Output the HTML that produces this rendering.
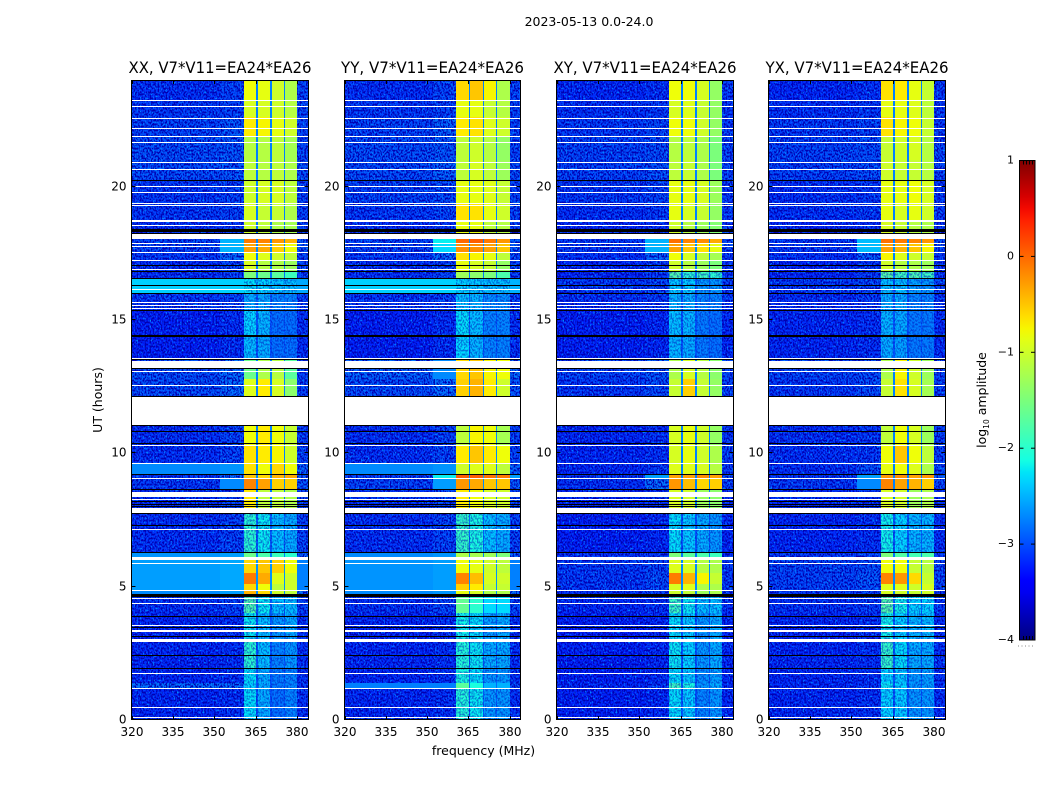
<!DOCTYPE html>
<html lang="en">
<head>
<meta charset="utf-8">
<title>2023-05-13 0.0-24.0 dynamic spectra</title>
<style>
html,body{margin:0;padding:0;background:#fff;width:1050px;height:800px;overflow:hidden}
svg{display:block}
text{font-family:"DejaVu Sans","Liberation Sans",sans-serif;fill:#000}
.tick{font-size:12px}
.label{font-size:12.5px}
.title{font-size:16px}
</style>
</head>
<body>
<svg id="fig" xmlns="http://www.w3.org/2000/svg" width="1050" height="800" viewBox="0 0 1050 800">
<defs>
<filter id="speckle-light" x="0" y="0" width="100%" height="100%" color-interpolation-filters="sRGB">
<feTurbulence type="fractalNoise" baseFrequency="0.62 0.5" numOctaves="2" seed="7"/>
<feColorMatrix type="matrix" values="0 0 0 0 0  0 0 0 0 0.55  0 0 0 0 1  6 0 0 0 -3.4"/>
</filter>
<filter id="speckle-dark" x="0" y="0" width="100%" height="100%" color-interpolation-filters="sRGB">
<feTurbulence type="fractalNoise" baseFrequency="0.62 0.5" numOctaves="2" seed="23"/>
<feColorMatrix type="matrix" values="0 0 0 0 0  0 0 0 0 0  0 0 0 0 0.7  -6 0 0 0 3.3"/>
</filter>
<linearGradient id="jet-gradient" x1="0" y1="1" x2="0" y2="0"></linearGradient>
</defs>
<text x="589" y="26" text-anchor="middle" class="label">2023-05-13 0.0-24.0</text>
<text x="483.5" y="755" text-anchor="middle" class="label">frequency (MHz)</text>
<text x="0" y="0" transform="translate(102,400) rotate(-90)" text-anchor="middle" class="label">UT (hours)</text>
<text x="0" y="0" transform="translate(986,400) rotate(-90)" text-anchor="middle" class="label">log<tspan font-size="7.5" dy="3">10</tspan><tspan dy="-3"> amplitude</tspan></text>
</svg>
<script>
// Axis values
const xTickLabels = [320, 335, 350, 365, 380];
const yTickLabels = [0, 5, 10, 15, 20];
const colorbarTicks = [-4, -3, -2, -1, 0, 1];
const panelTitles = ["XX, V7*V11=EA24*EA26", "YY, V7*V11=EA24*EA26", "XY, V7*V11=EA24*EA26", "YX, V7*V11=EA24*EA26"];

// Frequency bins (MHz) and which level column each bin reads
const frequencyEdges = [320, 352, 360.6, 365.1, 365.8, 370.2, 370.8, 375, 375.6, 380, 384];
const binColumn = [0, 1, 2, 3, 4, 3, 5, 3, 6, 7];

// Time bands (UT hours)
const timeEdges = [0, 1.15, 1.4, 1.9, 3, 4, 4.6, 4.87, 5.1, 5.5, 6, 6.3, 7.75, 8.65, 9.04, 9.2, 9.65, 10.3, 11.06, 12.15, 12.8, 13.5, 14.4, 15.35, 16, 16.55, 16.85, 17.2, 17.55, 17.85, 18.2, 18.7, 19.4, 20.25, 21, 21.9, 22.6, 23.25, 24];

// log10 amplitude per band: quiet, ramp, ch1, notch, ch2, ch3, ch4, upper edge
const xxLevels = [
[-3.15,-3.1,-2.25,-2.95,-2.5,-2.8,-2.7,-3.1],[-2.8,-2.8,-2.3,-2.95,-2.5,-2.75,-2.7,-3.05],[-3.15,-3.1,-2.25,-2.95,-2.5,-2.75,-2.7,-3.1],[-3.15,-3.1,-2.0,-2.95,-2.4,-2.7,-2.6,-3.1],
[-3.15,-3.1,-2.2,-2.95,-2.4,-2.6,-2.5,-3.1],[-3.1,-3.0,-1.8,-2.9,-2.2,-2.4,-2.4,-3.0],[-2.7,-2.6,-0.4,-2.7,-0.6,-1.0,-1.1,-2.8],[-2.6,-2.55,-0.6,-2.65,-0.8,-1.1,-1.0,-2.75],
[-2.6,-2.55,-0.1,-2.65,-0.35,-0.9,-1.0,-2.75],[-2.6,-2.55,-0.6,-2.65,-0.5,-0.55,-0.8,-2.75],[-2.65,-2.6,-1.6,-2.75,-1.8,-1.9,-2.0,-2.85],[-3.1,-3.0,-2.0,-2.9,-2.2,-2.4,-2.5,-3.0],
[-3.1,-3.0,-0.7,-2.8,-1.1,-1.1,-1.2,-3.0],[-3.05,-2.7,-0.15,-2.7,-0.3,-0.55,-0.55,-2.9],[-3.05,-2.8,-0.5,-2.7,-0.6,-0.4,-0.35,-2.9],[-2.7,-2.65,-0.65,-2.7,-0.8,-0.6,-0.8,-2.85],
[-3.1,-3.0,-0.65,-2.75,-0.7,-0.75,-1.0,-3.0],[-3.1,-3.0,-0.8,-2.75,-0.7,-0.8,-1.05,-3.0],null,[-2.95,-2.8,-0.9,-2.75,-0.7,-0.95,-1.4,-3.0],
[-2.95,-2.8,-1.6,-2.75,-1.2,-1.15,-1.7,-3.0],[-3.2,-3.1,-2.4,-2.95,-2.5,-2.8,-2.8,-3.1],[-3.2,-3.1,-2.3,-2.95,-2.45,-2.8,-2.8,-3.1],[-3.05,-3.0,-2.5,-2.9,-2.5,-2.7,-2.7,-3.0],
[-2.35,-2.35,-2.25,-2.5,-2.3,-2.4,-2.4,-2.55],[-3.1,-3.0,-1.5,-2.8,-1.6,-1.7,-1.9,-3.0],[-3.1,-3.0,-0.95,-2.75,-1.15,-1.2,-1.3,-3.0],[-3.05,-2.8,-0.8,-2.75,-0.9,-1.0,-1.1,-3.0],
[-3.0,-2.5,-0.3,-2.7,-0.35,-0.55,-0.8,-2.9],[-3.0,-2.5,-0.1,-2.7,-0.15,-0.25,-0.4,-2.9],[-3.1,-3.05,-1.0,-2.8,-1.1,-1.2,-1.25,-3.0],[-3.05,-3.0,-0.95,-2.75,-1.05,-1.05,-1.2,-3.0],
[-3.05,-3.0,-1.0,-2.75,-0.95,-0.95,-1.1,-3.0],[-2.95,-2.9,-1.1,-2.75,-1.15,-1.1,-1.2,-2.95],[-2.95,-2.9,-1.15,-2.75,-1.15,-1.1,-1.25,-3.0],[-3.0,-2.9,-0.7,-2.75,-0.75,-0.85,-1.0,-3.0],
[-3.05,-3.0,-0.95,-2.75,-0.95,-1.0,-1.15,-3.0],[-3.1,-3.0,-0.8,-2.75,-0.85,-1.0,-1.2,-3.0]
];
const yyLevels = [
[-3.15,-3.1,-2.05,-2.9,-2.2,-2.6,-2.6,-3.1],[-2.75,-2.75,-1.7,-2.85,-2.1,-2.5,-2.5,-3.0],[-3.15,-3.1,-2.1,-2.9,-2.25,-2.6,-2.6,-3.1],[-3.15,-3.1,-2.05,-2.9,-2.2,-2.5,-2.5,-3.1],
[-3.15,-3.1,-2.15,-2.9,-2.25,-2.55,-2.5,-3.1],[-3.1,-3.0,-1.65,-2.85,-2.0,-2.3,-2.3,-3.0],[-2.7,-2.65,-0.85,-2.7,-0.95,-1.2,-1.2,-2.8],[-2.65,-2.6,-0.55,-2.65,-0.7,-1.05,-1.05,-2.75],
[-2.65,-2.6,-0.15,-2.65,-0.45,-0.95,-1.0,-2.75],[-2.65,-2.6,-0.8,-2.65,-0.85,-1.0,-1.1,-2.75],[-2.7,-2.65,-1.2,-2.75,-1.25,-1.3,-1.5,-2.85],[-3.1,-3.0,-1.95,-2.85,-2.1,-2.4,-2.5,-3.0],
[-3.1,-3.0,-0.7,-2.8,-0.8,-0.95,-1.0,-3.0],[-3.0,-2.6,-0.25,-2.7,-0.35,-0.5,-0.5,-2.9],[-3.0,-2.2,0.05,-2.6,0.05,-0.05,-0.1,-2.6],[-2.7,-2.65,-1.0,-2.7,-0.9,-0.9,-1.1,-2.85],
[-3.1,-3.0,-0.7,-2.7,-0.5,-0.7,-0.8,-3.0],[-3.1,-3.0,-1.1,-2.7,-0.75,-0.8,-1.25,-3.0],null,[-2.95,-2.8,-0.55,-2.75,-0.4,-0.7,-1.0,-2.9],
[-2.85,-2.7,-0.6,-2.75,-0.5,-0.75,-0.8,-2.8],[-3.2,-3.1,-2.3,-2.95,-2.45,-2.7,-2.7,-3.1],[-3.2,-3.1,-2.25,-2.95,-2.4,-2.7,-2.7,-3.1],[-3.05,-3.0,-2.4,-2.9,-2.45,-2.65,-2.65,-3.0],
[-2.35,-2.35,-2.3,-2.45,-2.35,-2.4,-2.4,-2.5],[-3.1,-3.0,-1.3,-2.8,-1.4,-1.5,-1.8,-3.0],[-3.1,-3.0,-0.85,-2.75,-0.95,-1.05,-1.35,-3.0],[-3.05,-2.8,-0.65,-2.75,-0.75,-0.85,-1.1,-3.0],
[-3.0,-2.3,-0.2,-2.7,-0.2,-0.3,-0.5,-2.9],[-3.0,-2.2,0.0,-2.7,0.05,-0.1,-0.25,-2.9],[-3.1,-3.05,-0.85,-2.8,-0.85,-1.1,-1.15,-3.0],[-3.05,-3.0,-0.65,-2.75,-0.65,-0.85,-1.0,-3.0],
[-3.0,-2.95,-0.85,-2.75,-0.85,-0.9,-1.05,-3.0],[-2.95,-2.85,-1.1,-2.75,-0.95,-1.1,-1.3,-2.95],[-2.95,-2.9,-1.1,-2.75,-1.0,-1.15,-1.35,-3.0],[-3.0,-2.85,-0.7,-2.75,-0.65,-0.9,-1.0,-3.0],
[-3.05,-3.0,-0.85,-2.75,-0.85,-1.05,-1.15,-3.0],[-3.1,-3.0,-0.6,-2.75,-0.5,-0.75,-1.2,-3.0]
];
const xyLevels = [
[-3.2,-3.15,-2.25,-2.95,-2.35,-2.7,-2.6,-3.15],[-3.15,-3.1,-1.9,-2.9,-2.1,-2.6,-2.5,-3.1],[-3.2,-3.15,-2.25,-2.95,-2.35,-2.65,-2.55,-3.15],[-3.2,-3.15,-2.2,-2.95,-2.3,-2.6,-2.5,-3.15],
[-3.2,-3.15,-2.25,-2.95,-2.35,-2.6,-2.5,-3.15],[-3.15,-3.1,-1.9,-2.9,-2.2,-2.4,-2.4,-3.1],[-3.1,-3.0,-1.0,-2.75,-1.1,-1.3,-1.2,-3.1],[-3.05,-3.0,-0.95,-2.7,-0.9,-1.2,-1.2,-3.05],
[-3.05,-2.95,-0.1,-2.7,-0.4,-0.75,-1.05,-3.05],[-3.05,-3.0,-0.9,-2.7,-0.95,-1.15,-1.2,-3.05],[-3.1,-3.05,-1.5,-2.8,-1.7,-1.8,-1.9,-3.1],[-3.2,-3.15,-2.25,-2.95,-2.35,-2.5,-2.6,-3.15],
[-3.15,-3.1,-0.95,-2.8,-1.0,-1.3,-1.4,-3.1],[-3.1,-2.8,-0.25,-2.75,-0.45,-0.6,-0.55,-3.0],[-3.05,-2.6,-0.3,-2.75,-0.3,-0.2,-0.3,-2.9],[-3.15,-3.05,-0.9,-2.75,-0.9,-0.95,-1.15,-3.05],
[-3.15,-3.1,-0.95,-2.75,-0.85,-1.0,-1.2,-3.05],[-3.15,-3.1,-0.95,-2.75,-0.85,-1.0,-1.35,-3.05],null,[-3.05,-2.95,-1.05,-2.75,-0.55,-1.05,-1.35,-3.0],
[-3.0,-2.9,-1.2,-2.75,-0.95,-1.15,-1.4,-3.0],[-3.2,-3.15,-2.45,-2.95,-2.5,-2.75,-2.8,-3.15],[-3.2,-3.15,-2.4,-2.95,-2.45,-2.75,-2.8,-3.15],[-3.1,-3.05,-2.45,-2.95,-2.5,-2.7,-2.7,-3.05],
[-3.05,-3.0,-2.35,-2.9,-2.35,-2.6,-2.6,-3.0],[-3.15,-3.05,-1.75,-2.8,-2.0,-1.9,-2.0,-3.05],[-3.15,-3.05,-1.0,-2.75,-1.15,-1.3,-1.5,-3.05],[-3.1,-2.85,-0.8,-2.75,-0.95,-1.1,-1.25,-3.05],
[-3.05,-2.5,-0.3,-2.7,-0.5,-0.65,-0.85,-2.95],[-3.05,-2.5,-0.05,-2.7,-0.15,-0.2,-0.35,-2.95],[-3.15,-3.1,-1.0,-2.8,-1.15,-1.3,-1.45,-3.05],[-3.1,-3.05,-0.85,-2.75,-0.95,-1.05,-1.35,-3.05],
[-3.05,-3.0,-0.85,-2.75,-0.85,-0.95,-1.3,-3.05],[-3.0,-2.95,-1.1,-2.75,-1.05,-1.2,-1.5,-3.0],[-3.0,-2.95,-1.15,-2.75,-1.1,-1.2,-1.5,-3.0],[-3.05,-3.0,-0.8,-2.75,-0.8,-1.0,-1.35,-3.05],
[-3.1,-3.05,-0.95,-2.75,-0.9,-1.05,-1.35,-3.05],[-3.15,-3.1,-0.8,-2.75,-0.8,-0.95,-1.35,-3.05]
];
const yxLevels = [
[-3.15,-3.1,-2.3,-2.95,-2.35,-2.6,-2.6,-3.1],[-3.15,-3.1,-2.2,-2.95,-2.3,-2.6,-2.55,-3.1],[-3.15,-3.1,-2.3,-2.95,-2.35,-2.6,-2.55,-3.1],[-3.15,-3.1,-1.95,-2.9,-2.25,-2.5,-2.5,-3.1],
[-3.15,-3.1,-2.15,-2.9,-2.3,-2.45,-2.4,-3.1],[-3.1,-3.05,-1.75,-2.9,-2.15,-2.3,-2.3,-3.05],[-3.05,-3.0,-0.95,-2.75,-1.0,-1.05,-1.0,-3.05],[-3.0,-2.95,-0.9,-2.7,-0.9,-1.0,-0.95,-3.0],
[-3.0,-2.9,-0.15,-2.7,-0.25,-0.6,-1.05,-3.0],[-3.0,-2.95,-0.8,-2.7,-0.8,-1.05,-1.15,-3.0],[-3.05,-3.0,-1.5,-2.8,-1.75,-1.85,-1.8,-3.05],[-3.15,-3.1,-2.15,-2.9,-2.3,-2.45,-2.45,-3.1],
[-3.15,-3.1,-0.95,-2.8,-1.0,-1.3,-1.2,-3.1],[-3.05,-2.7,-0.15,-2.75,-0.3,-0.4,-0.55,-3.0],[-3.05,-2.6,-0.25,-2.75,-0.2,-0.3,-0.25,-2.9],[-3.1,-2.95,-0.85,-2.75,-0.8,-0.9,-1.2,-3.0],
[-3.1,-3.05,-0.8,-2.75,-0.5,-0.8,-1.1,-3.0],[-3.1,-3.05,-1.1,-2.75,-0.8,-0.95,-1.3,-3.0],null,[-3.05,-2.95,-1.05,-2.75,-0.65,-0.95,-1.25,-3.0],
[-3.0,-2.95,-1.2,-2.75,-0.75,-1.0,-1.3,-3.0],[-3.15,-3.1,-2.5,-2.95,-2.55,-2.75,-2.75,-3.1],[-3.15,-3.1,-2.45,-2.95,-2.5,-2.75,-2.75,-3.1],[-3.1,-3.05,-2.5,-2.95,-2.5,-2.7,-2.7,-3.05],
[-3.05,-3.0,-2.4,-2.9,-2.4,-2.55,-2.6,-3.0],[-3.15,-3.05,-1.75,-2.85,-1.9,-1.8,-1.9,-3.05],[-3.15,-3.05,-1.0,-2.8,-1.15,-1.2,-1.3,-3.05],[-3.1,-2.85,-0.75,-2.75,-0.9,-1.0,-1.05,-3.05],
[-3.05,-2.45,-0.3,-2.7,-0.4,-0.5,-0.75,-2.95],[-3.05,-2.45,-0.05,-2.7,-0.1,-0.15,-0.25,-2.95],[-3.15,-3.1,-0.95,-2.8,-1.05,-1.15,-1.2,-3.05],[-3.1,-3.05,-0.85,-2.75,-0.95,-0.85,-1.0,-3.05],
[-3.1,-3.05,-0.85,-2.75,-0.85,-0.8,-0.95,-3.05],[-3.0,-2.95,-1.0,-2.75,-1.05,-1.05,-1.15,-3.0],[-3.0,-2.95,-1.05,-2.75,-1.0,-0.95,-1.15,-3.0],[-3.05,-3.0,-0.65,-2.75,-0.75,-0.8,-1.05,-3.05],
[-3.1,-3.05,-0.85,-2.75,-0.85,-0.9,-1.1,-3.05],[-3.15,-3.1,-0.65,-2.75,-0.7,-0.85,-1.05,-3.05]
];
const panelLevels = [xxLevels, yyLevels, xyLevels, yxLevels];

// Flagged integrations, UT hours [start, end]: no data (white) and zero amplitude (black)
const whiteFlags = [[0.08,0.11],[0.45,0.49],[1.16,1.2],[1.73,1.76],[2.93,3.04],[3.3,3.38],[3.53,3.56],[4.35,4.39],[4.54,4.58],[4.84,4.88],[5.85,5.89],[6.0,6.11],[7.13,7.16],[7.76,7.95],[8.25,8.29],[8.36,8.55],[9.04,9.08],[9.6,9.64],[10.28,10.31],[11.06,12.15],[12.53,12.56],[13.05,13.09],[13.2,13.46],[13.54,13.58],[15.41,15.45],[15.53,15.56],[15.64,15.68],[16.13,16.16],[16.88,16.91],[17.21,17.25],[17.51,17.55],[17.74,17.78],[17.85,17.89],[18.04,18.23],[18.53,18.56],[18.66,18.75],[19.28,19.31],[19.35,19.39],[19.76,19.8],[19.99,20.03],[20.63,20.66],[20.89,20.93],[21.64,21.68],[21.86,21.9],[22.16,22.2],[22.54,22.58],[22.99,23.03],[23.21,23.25]];
const blackFlags = [[1.91,1.95],[2.4,2.44],[3.11,3.15],[3.45,3.49],[3.86,3.9],[4.61,4.73],[6.26,6.3],[7.28,7.31],[7.73,7.76],[7.97,8.01],[8.06,8.1],[8.16,8.21],[8.63,8.66],[9.19,9.23],[10.35,10.39],[10.8,10.84],[11.03,11.06],[12.11,12.15],[13.16,13.2],[13.5,13.54],[14.36,14.44],[15.34,15.38],[15.98,16.01],[16.28,16.31],[16.54,16.58],[16.8,16.84],[17.03,17.06],[18.23,18.26],[18.3,18.41],[20.21,20.25]];

const panelLeft = [131.5, 344.5, 556.5, 768.5];
const panelWidth = [177, 176, 177, 177];
const plotTop = 80, plotHeight = 640;
const cbLeft = 1019.5, cbWidth = 15.5, cbTop = 160.5, cbHeight = 479.5;
const SVG_NS = 'http://www.w3.org/2000/svg';
const fig = document.getElementById('fig');

function xScale(f, left, width) { return left + (f - 320) / 64 * width; }
function yScale(ut) { return plotTop + plotHeight - ut / 24 * plotHeight; }
function cbScale(v) { return cbTop + cbHeight - (v + 4) / 5 * cbHeight; }
function ramp(t, pts) {
  for (let i = 1; i < pts.length; i++) {
    if (t <= pts[i][0]) {
      const a = pts[i - 1], b = pts[i];
      return a[1] + (b[1] - a[1]) * (t - a[0]) / (b[0] - a[0]);
    }
  }
  return pts[pts.length - 1][1];
}
function jet(v) {
  const t = Math.min(1, Math.max(0, (v + 4) / 5));
  const r = ramp(t, [[0,0],[0.35,0],[0.66,1],[0.89,1],[1,0.5]]);
  const g = ramp(t, [[0,0],[0.125,0],[0.375,1],[0.64,1],[0.91,0],[1,0]]);
  const b = ramp(t, [[0,0.5],[0.11,1],[0.34,1],[0.65,0],[1,0]]);
  return 'rgb(' + Math.round(r * 255) + ',' + Math.round(g * 255) + ',' + Math.round(b * 255) + ')';
}
function setAll(el, attrs) { for (const k in attrs) el.setAttribute(k, attrs[k]); return el; }
function make(tag, parent, attrs) {
  const el = document.createElementNS(SVG_NS, tag);
  setAll(el, attrs);
  parent.appendChild(el);
  return el;
}

panelTitles.forEach(function (title, p) {
  const left = panelLeft[p];
  const width = panelWidth[p];
  const levels = panelLevels[p];
  const group = make('g', fig, {});
  
  

  // Heatmap cells
  levels.forEach(function (row, r) {
    if (!row) return;
    const y0 = Math.round(yScale(timeEdges[r + 1])), y1 = Math.round(yScale(timeEdges[r]));
    binColumn.forEach(function (col, b) {
      const x0 = Math.round(xScale(frequencyEdges[b], left, width)), x1 = Math.round(xScale(frequencyEdges[b + 1], left, width));
      const cell = make('rect', group, { x: x0, y: y0, width: x1 - x0, height: y1 - y0, fill: jet(row[col]), 'shape-rendering': 'crispEdges' });
      
      
    });
    // Receiver-noise speckle on low-amplitude parts of this band
    const spans = [];
    if (row[0] < -2.75) spans.push([320, 352, 1]);
    if (row[1] < -2.75) spans.push([352, 360.6, 1]);
    if (row[2] < -1.7) spans.push([360.6, 380, 0.45]);
    if (row[7] < -2.75) spans.push([380, 384, 1]);
    spans.forEach(function (span) {
      const sx0 = Math.round(xScale(span[0], left, width)), sx1 = Math.round(xScale(span[1], left, width));
      ['speckle-light', 'speckle-dark'].forEach(function (id) {
        const tex = make('rect', group, { x: sx0, y: y0, width: sx1 - sx0, height: y1 - y0, fill: '#000', filter: 'url(#' + id + ')', opacity: span[2] });
        
        
      });
    });
  });

  // Flagged rows
  const flagLeft = Math.round(left), flagWidth = Math.round(left + width) - flagLeft;
  whiteFlags.forEach(function (f) {
    const fy = Math.round(yScale(f[1]));
    const band = make('rect', group, { x: flagLeft, y: fy, width: flagWidth, height: Math.max(1, Math.round(yScale(f[0])) - fy), fill: '#fff', 'shape-rendering': 'crispEdges' });
    
    
  });
  blackFlags.forEach(function (f) {
    const fy = Math.round(yScale(f[1]));
    const band = make('rect', group, { x: flagLeft, y: fy, width: flagWidth, height: Math.max(1, Math.round(yScale(f[0])) - fy), fill: '#000', 'shape-rendering': 'crispEdges' });
    
    
  });

  // Frame
  const frame = make('rect', group, { x: left, y: plotTop + 0.5, width: width, height: plotHeight - 1, fill: 'none', stroke: '#000', 'stroke-width': 1 });
  
  

  // X ticks and labels
  xTickLabels.forEach(function (v) {
    const x = Math.round(xScale(v, left, width)) + 0.5;
    const bottomTick = make('line', group, { x1: x, x2: x, y1: plotTop + plotHeight, y2: plotTop + plotHeight - 4, stroke: '#000' });
    
    
    const topTick = make('line', group, { x1: x, x2: x, y1: plotTop, y2: plotTop + 4, stroke: '#000' });
    
    
    const lab = make('text', group, { x: x - 0.5, y: 736, 'text-anchor': 'middle', 'class': 'tick' });
    
    
    lab.textContent = v;
  });

  // Y ticks and labels
  yTickLabels.forEach(function (v) {
    const y = Math.round(yScale(v)) - 0.5;
    const leftTick = make('line', group, { x1: left, x2: left + 4, y1: y, y2: y, stroke: '#000' });
    
    
    const rightTick = make('line', group, { x1: left + width, x2: left + width - 4, y1: y, y2: y, stroke: '#000' });
    
    
    const lab = make('text', group, { x: left - 5, y: y + 4, 'text-anchor': 'end', 'class': 'tick' });
    
    
    lab.textContent = v;
  });

  // Panel title
  const head = make('text', group, { x: left + width / 2, y: 73, 'text-anchor': 'middle', 'class': 'title', textLength: 183, lengthAdjust: 'spacingAndGlyphs' });
  
  
  head.textContent = title;
});

// Colorbar
const grad = document.getElementById('jet-gradient');
for (let i = 0; i <= 40; i++) {
  make('stop', grad, { offset: (i / 40), 'stop-color': jet(-4 + i / 8) });
}
const cbGroup = make('g', fig, {});


const cbBar = make('rect', cbGroup, { x: cbLeft, y: cbTop, width: cbWidth, height: cbHeight, fill: 'url(#jet-gradient)', stroke: '#000', 'stroke-width': 1 });


colorbarTicks.forEach(function (v) {
  const y = cbScale(v);
  const tickLeft = make('line', cbGroup, { x1: cbLeft, x2: cbLeft + 4, y1: y, y2: y, stroke: '#000' });
  
  
  const tickRight = make('line', cbGroup, { x1: cbLeft + cbWidth, x2: cbLeft + cbWidth - 4, y1: y, y2: y, stroke: '#000' });
  
  
  const lab = make('text', cbGroup, { x: 1014, y: y + 3, 'text-anchor': 'end', style: 'font-size:11px' });
  
  
  lab.textContent = String(v).replace('-', '\u2212');
});
[0.2, 0.4, 0.6, 0.8].forEach(function (frac) {
  const x = Math.round(cbLeft + cbWidth * frac) + 0.5;
  const topMark = make('line', cbGroup, { x1: x, x2: x, y1: cbTop, y2: cbTop + 4, stroke: '#000' });
  
  
  const bottomMark = make('line', cbGroup, { x1: x, x2: x, y1: cbTop + cbHeight, y2: cbTop + cbHeight - 4, stroke: '#000' });
  
  
});
const cbDots = make('line', cbGroup, { x1: 1018, x2: 1035, y1: 646, y2: 646, stroke: '#888', 'stroke-width': 1, 'stroke-dasharray': '1 2.5' });


</script>
</body>
</html>
